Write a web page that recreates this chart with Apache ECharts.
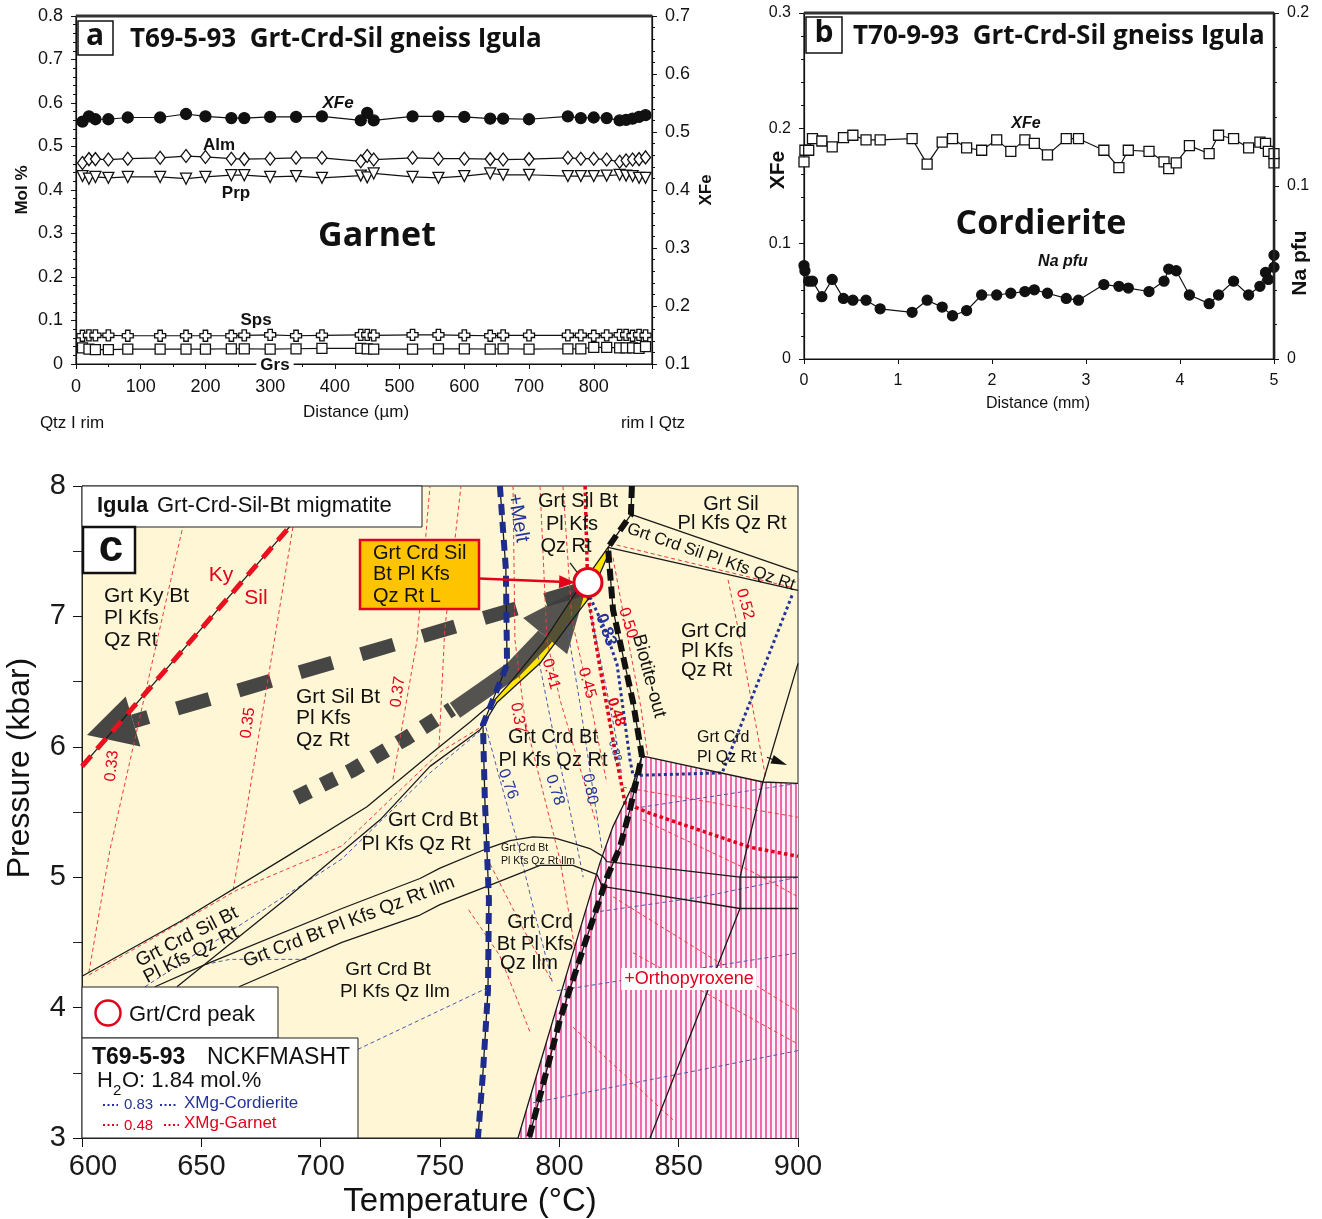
<!DOCTYPE html>
<html>
<head>
<meta charset="utf-8">
<script src="https://cdn.jsdelivr.net/npm/echarts@6/dist/echarts.min.js"></script>
<style>
html,body{margin:0;padding:0;background:#ffffff;}
#chart{width:1322px;height:1219px;}
</style>
</head>
<body>
<div id="chart"></div>
<script>
// ---------- (a) Garnet traverse, T69-5-93 (distance in µm) ----------
const garnetDist = [10,20,30,50,80,130,170,200,240,260,300,340,380,440,450,460,520,560,600,640,660,700,760,780,800,820,840,850,860,870,880];
const garnetXFe = [0.518,0.527,0.522,0.522,0.525,0.525,0.531,0.527,0.524,0.524,0.526,0.526,0.527,0.520,0.533,0.520,0.527,0.527,0.526,0.523,0.523,0.522,0.527,0.524,0.525,0.524,0.520,0.521,0.523,0.526,0.529];
const garnetAlm = [0.462,0.471,0.471,0.470,0.472,0.474,0.478,0.476,0.472,0.471,0.472,0.474,0.474,0.466,0.478,0.470,0.474,0.472,0.472,0.471,0.470,0.471,0.474,0.472,0.472,0.470,0.465,0.468,0.470,0.471,0.475];
const garnetPrp = [0.432,0.426,0.430,0.428,0.430,0.430,0.426,0.430,0.434,0.434,0.430,0.432,0.428,0.433,0.429,0.438,0.430,0.428,0.432,0.438,0.435,0.435,0.432,0.432,0.432,0.433,0.435,0.433,0.432,0.428,0.428];
const garnetSps = [0.065,0.066,0.066,0.066,0.065,0.065,0.065,0.065,0.065,0.066,0.067,0.065,0.066,0.067,0.067,0.066,0.067,0.067,0.066,0.065,0.066,0.066,0.066,0.066,0.065,0.066,0.067,0.067,0.065,0.067,0.066];
const garnetGrs = [0.037,0.034,0.033,0.033,0.034,0.034,0.034,0.034,0.035,0.035,0.034,0.035,0.036,0.036,0.035,0.034,0.034,0.035,0.035,0.034,0.035,0.034,0.035,0.035,0.038,0.038,0.037,0.037,0.037,0.036,0.040];

// ---------- (b) Cordierite traverse, T70-9-93 (distance in mm) ----------
const crdDist = [0,0.01,0.05,0.09,0.19,0.30,0.42,0.52,0.66,0.81,1.15,1.31,1.47,1.58,1.73,1.89,2.05,2.20,2.35,2.45,2.59,2.79,2.92,3.19,3.35,3.45,3.67,3.83,3.88,3.96,4.10,4.31,4.41,4.57,4.73,4.85,4.91,4.94,5.00,5.00];
const crdXFe = [0.171,0.181,0.181,0.191,0.189,0.184,0.192,0.194,0.190,0.190,0.191,0.169,0.188,0.191,0.183,0.181,0.190,0.180,0.190,0.187,0.177,0.191,0.191,0.181,0.166,0.181,0.180,0.171,0.165,0.170,0.185,0.178,0.194,0.191,0.183,0.188,0.187,0.180,0.170,0.178];
const crdNa = [0.054,0.051,0.045,0.045,0.036,0.046,0.035,0.034,0.034,0.029,0.027,0.034,0.030,0.025,0.028,0.037,0.037,0.038,0.039,0.040,0.038,0.035,0.034,0.043,0.042,0.041,0.039,0.045,0.052,0.051,0.037,0.032,0.037,0.045,0.037,0.042,0.050,0.046,0.060,0.053];

// ---------- (c) P–T pseudosection, [T °C, P kbar] ----------
const kySil = [[600.0,5.85],[689.5,7.74]];
const meltLine = [[775.1,8.0],[777.6,7.36],[778.1,6.63],[768.0,6.17],[768.8,5.59],[770.5,4.83],[770.1,4.13],[768.0,3.50],[765.9,3.0]];
const biotiteOut = [[830.4,8.0],[830.0,7.78],[820.4,7.53],[822.5,7.05],[830.9,6.34],[834.6,5.93],[829.6,5.52],[825.4,5.23],[820.0,5.00],[811.2,4.52],[800.3,3.91],[787.3,3.0]];
const opxIn = [[834.6,5.93],[830.4,5.69],[822.5,5.39],[817.0,5.11],[805.7,4.42],[793.2,3.65],[782.7,3.0]];
const opxTop = [[834.6,5.93],[885.3,5.73],[900,5.72]];
const opxField = [[782.7,3.0],[793.2,3.65],[805.7,4.42],[817.0,5.11],[822.5,5.39],[830.4,5.69],[834.6,5.93],[885.3,5.73],[900,5.72],[900,3.0]];
const rightBoundary = [[838.0,3.0],[875.7,4.76],[875.7,5.0],[885.3,5.73],[900,6.64]];
const ilmUpper = [[630.6,4.16],[651.5,4.33],[708.9,4.76],[741.6,4.99],[750.0,5.07],[769.7,5.22],[779.3,5.28],[789.0,5.31],[798.2,5.30],[805.7,5.26],[812.8,5.22],[818.3,5.16],[820.0,5.12],[875.7,5.0],[900,5.0]];
const ilmLower = [[665.8,4.16],[708.9,4.50],[741.6,4.71],[750.0,4.79],[769.7,4.93],[791.9,5.09],[805.7,5.09],[815.8,5.02],[817.9,4.93],[875.7,4.76],[900,4.76]];
const crdInUpper = [[600,4.24],[641.1,4.66],[685.9,5.16],[719.4,5.54],[745.8,5.94],[762.6,6.19],[770.9,6.32],[779.3,6.49],[793.2,6.80],[805.7,7.15],[820.4,7.53]];
const crdInLower = [[639.8,4.16],[685.9,4.84],[724.9,5.44],[745.8,5.85],[766.8,6.13],[773.9,6.34],[791.9,6.64],[803.2,6.92],[812.8,7.15],[820.4,7.47]];
const peakField = [[770.0,6.30],[779.3,6.49],[793.2,6.80],[805.7,7.15],[820.4,7.53],[820.4,7.47],[812.8,7.15],[803.2,6.92],[791.9,6.64],[773.9,6.34]];
const silBandTop = [[830.4,7.78],[900,7.34]];
const silBandBottom = [[820.4,7.53],[900,7.20]];
const xmgCrd083 = [[812.8,7.15],[819.2,6.90],[824.2,6.63],[829.6,5.90],[830.9,5.78],[868.2,5.80],[887.0,6.67],[897.9,7.18]];
const xmgGrt048 = [[810.8,8.0],[811.6,7.43],[812.0,7.16],[817.0,6.61],[822.5,6.05],[827.5,5.57],[838.0,5.49],[858.9,5.36],[879.9,5.23],[900,5.16]];
const grtIsopleths = [
  [[602.9,4.27],[611.7,5.21],[646.1,8.0]],
  [[663.3,4.90],[666.2,5.21],[691.2,8.0]],
  [[730.3,5.75],[740.4,6.82],[745.8,8.0]],
  [[749.6,6.0],[752.0,6.9],[758.8,8.0]],
  [[602.9,4.25],[664.8,4.90],[708.9,5.24],[750.0,5.96],[768.0,6.16]],
  [[780.6,8.0],[781.4,6.82],[785.6,6.21],[800.3,5.13],[806.6,4.44]],
  [[791.9,8.0],[794.8,6.82],[800.3,6.36],[815.0,5.44]],
  [[801.5,8.0],[805.3,6.97],[812.8,6.36],[819.6,5.75]],
  [[822.5,7.45],[828.0,6.90],[834.2,6.30],[837.0,5.93]],
  [[870.7,7.28],[875.0,6.90],[880.0,6.40],[886.6,5.75]],
  [[821.2,7.56],[897.9,7.22]],
  [[822.5,4.85],[900,3.97]],
  [[830.9,4.42],[900,3.72]],
  [[826.7,5.69],[900,5.46]],
  [[835.0,5.44],[880.0,5.05],[900,4.85]],
  [[805.7,3.85],[847.6,3.14]],
  [[771.0,5.10],[785.0,4.60],[797.0,4.20]],
  [[762.0,4.75],[775.0,4.40],[788.0,3.80]]
];
const crdIsopleths = [
  [[626.4,4.16],[708.9,5.14],[745.8,5.80],[766.8,6.12]],
  [[651.5,4.33],[662.0,4.37],[695.1,4.37]],
  [[715.6,3.68],[769.7,4.15]],
  [[768.5,6.20],[775.1,5.75],[782.0,5.30],[790.0,4.70],[797.0,4.20]],
  [[791.0,6.70],[797.5,6.10],[803.5,5.60],[810.0,5.00]],
  [[803.0,6.95],[808.5,6.35],[813.0,5.80],[818.0,5.20]],
  [[811.0,7.20],[818.0,6.60],[823.5,6.10],[826.0,5.80]],
  [[828.4,5.52],[900,5.72]],
  [[814.1,4.73],[860.0,4.85],[900,5.0]],
  [[799.0,4.13],[900,4.42]],
  [[789.0,3.27],[900,3.67]]
];
const peakTP = [812.0, 7.26];
const retroPath = [[807.8,7.20],[602.1,6.09]];
const heatingPathDotted = [[689.7,5.61],[713.1,5.82],[736.2,6.07],[755.0,6.29]];
const heatingPathSolid = [[756.3,6.28],[780.6,6.59],[793.2,6.83],[811.6,7.24]];
const peakBoxPointer = [[766.3,7.29],[806.6,7.26]];
const fieldPointer = [[887.0,5.92],[895.4,5.86]];
const qzRtTick = [[804.5,7.41],[807.8,7.33]];

// ---------- styling ----------
const SANS = '"Liberation Sans", Arial, Helvetica, sans-serif';
const HEAD = '"Open Sans", "Liberation Sans", sans-serif';
const RED = '#e3001b';
const BLUE = '#23339b';
const INK = '#111111';
const ARROW = '#3c3c3c';

const pair = (xs, ys) => xs.map((x, i) => [x, ys[i]]);

// vertical pink hatch for the orthopyroxene-bearing field
const hatch = document.createElement('canvas');
hatch.width = 5; hatch.height = 8;
const hctx = hatch.getContext('2d');
hctx.fillStyle = '#fff1f7'; hctx.fillRect(0, 0, 5, 8);
hctx.fillStyle = '#ee6aa8'; hctx.fillRect(0, 0, 2, 8);

function axisCommon(extra) {
  const base = {
    type: 'value',
    axisLine: { show: true, onZero: false, lineStyle: { color: INK, width: 1.2 } },
    axisTick: { show: true, inside: false, length: 5, lineStyle: { color: INK, width: 1 } },
    minorTick: { show: false },
    splitLine: { show: false },
    minorSplitLine: { show: false },
    axisLabel: { color: INK, fontFamily: SANS, fontSize: 17, margin: 12, hideOverlap: false }
  };
  const out = Object.assign({}, base, extra);
  ['axisLine', 'axisTick', 'minorTick', 'axisLabel'].forEach(k => {
    if (extra[k]) out[k] = Object.assign({}, base[k], extra[k]);
  });
  return out;
}

function profile(xi, yi, xs, ys, symbol, size, filled, rotate) {
  return {
    type: 'line', xAxisIndex: xi, yAxisIndex: yi, data: pair(xs, ys),
    symbol, symbolSize: size, symbolRotate: rotate || 0, showSymbol: true,
    lineStyle: { color: INK, width: 1.2 },
    itemStyle: { color: filled ? INK : '#ffffff', borderColor: INK, borderWidth: 1.3, opacity: 1 },
    silent: true, z: 4, animation: false
  };
}

function pt(data, color, width, type, z) {
  return {
    type: 'line', xAxisIndex: 2, yAxisIndex: 4, data, symbol: 'none', showSymbol: false,
    lineStyle: { color, width, type: type || 'solid', cap: 'butt', join: 'round' },
    silent: true, z: z, clip: true, animation: false
  };
}

function arrowSeries(specs, z) {
  return {
    type: 'custom', coordinateSystem: 'cartesian2d', xAxisIndex: 2, yAxisIndex: 4,
    z, silent: true, clip: false, animation: false,
    data: specs.map(s => s.pts[s.pts.length - 1]),
    renderItem: (params, api) => {
      const s = specs[params.dataIndex];
      const px = s.pts.map(p => api.coord(p));
      const n = px.length;
      const op = s.opacity == null ? 1 : s.opacity;
      const children = [];
      let shaft = px;
      if (s.head) {
        const tip = px[n - 1], prev = px[n - 2];
        let ux = tip[0] - prev[0], uy = tip[1] - prev[1];
        const len = Math.hypot(ux, uy); ux /= len; uy /= len;
        const base = [tip[0] - ux * s.head[0], tip[1] - uy * s.head[0]];
        const hw = s.head[1] / 2;
        shaft = px.slice(0, n - 1).concat([base]);
        children.push({
          type: 'polygon',
          shape: { points: [tip, [base[0] - uy * hw, base[1] + ux * hw], [base[0] + uy * hw, base[1] - ux * hw]] },
          style: { fill: s.color, stroke: 'none', opacity: op }
        });
      }
      children.unshift({
        type: 'polyline', shape: { points: shaft },
        style: { stroke: s.color, lineWidth: s.width, lineDash: s.dash || null, lineCap: 'butt', lineJoin: 'round', fill: 'none', opacity: op }
      });
      return { type: 'group', children };
    }
  };
}

const fieldPolygons = [
  { pts: opxField, fill: { image: hatch, repeat: 'repeat' } },
  { pts: peakField, fill: '#ffe600' }
];

const pathArrows = [
  { pts: retroPath, width: 14, dash: [34, 30], head: [48, 52], color: ARROW, opacity: 0.95 },
  { pts: heatingPathDotted, width: 15, dash: [15, 14], color: ARROW, opacity: 0.95 },
  { pts: heatingPathSolid, width: 18, head: [66, 57], color: ARROW, opacity: 0.88 }
];
const pointerArrows = [
  { pts: peakBoxPointer, width: 2.5, head: [16, 13], color: RED },
  { pts: fieldPointer, width: 1.3, head: [16, 9], color: INK }
];

// ---------- text helper ----------
function label(x, y, text, size, o) {
  o = o || {};
  const el = {
    type: 'text', x, y, z: 120, silent: true,
    rotation: (o.rot || 0) * Math.PI / 180,
    style: {
      text, fontSize: size, fontFamily: o.family || SANS,
      fontWeight: o.bold ? 'bold' : 'normal', fontStyle: o.italic ? 'italic' : 'normal',
      fill: o.color || INK, align: o.align || 'center', verticalAlign: 'middle',
      lineHeight: o.lh || Math.round(size * 1.1)
    }
  };
  if (o.bg) { el.style.backgroundColor = o.bg; el.style.padding = o.pad || [0, 3]; }
  return el;
}
const rect = (x, y, w, h, fill, stroke, lw) => ({ type: 'rect', z: 110, silent: true, shape: { x, y, width: w, height: h }, style: { fill, stroke, lineWidth: lw } });
const seg = (x1, y1, x2, y2, color, lw, dash) => ({ type: 'line', z: 112, silent: true, shape: { x1, y1, x2, y2 }, style: { stroke: color, lineWidth: lw, lineDash: dash || null } });

const graphics = [
  // panel a frame and captions
  seg(76, 16, 652, 16, '#333', 3),
  rect(78, 21, 35, 34, '#fff', INK, 1.5),
  label(95, 36, 'a', 30, { bold: true, family: HEAD }),
  label(130, 40, 'T69-5-93  Grt-Crd-Sil gneiss Igula', 26, { bold: true, family: HEAD, align: 'left' }),
  label(377, 236, 'Garnet', 34, { bold: true, family: HEAD }),
  label(338, 103, 'XFe', 17, { bold: true, italic: true }),
  label(219, 145, 'Alm', 17, { bold: true }),
  label(236, 193, 'Prp', 17, { bold: true }),
  label(256, 320, 'Sps', 17, { bold: true }),
  label(275, 365, 'Grs', 17, { bold: true, bg: '#fff', pad: [0, 4] }),
  label(22, 190, 'Mol %', 17, { bold: true, rot: 90 }),
  label(706, 190, 'XFe', 17, { bold: true, rot: 90 }),
  label(356, 412, 'Distance (µm)', 17),
  label(72, 423, 'Qtz I rim', 17),
  label(653, 423, 'rim I Qtz', 17),

  // panel b frame and captions
  seg(804, 13, 1274, 13, '#333', 3),
  seg(1274, 13, 1274, 359, '#222', 2.5),
  rect(806, 17, 36, 36, '#fff', INK, 1.5),
  label(824, 33, 'b', 30, { bold: true, family: HEAD }),
  label(853, 37, 'T70-9-93  Grt-Crd-Sil gneiss Igula', 26, { bold: true, family: HEAD, align: 'left' }),
  label(1041, 224, 'Cordierite', 34, { bold: true, family: HEAD }),
  label(1026, 124, 'XFe', 16, { bold: true, italic: true }),
  label(1063, 262, 'Na pfu', 16, { bold: true, italic: true }),
  label(778, 170, 'XFe', 21, { bold: true, rot: 90 }),
  label(1300, 263, 'Na pfu', 21, { bold: true, rot: 90 }),
  label(1038, 404, 'Distance (mm)', 16),

  // panel c boxes
  rect(82, 486, 340, 41, '#fff', '#222', 1),
  label(97, 506, 'Igula', 22, { bold: true, align: 'left' }),
  label(157, 506, 'Grt-Crd-Sil-Bt migmatite', 22, { align: 'left' }),
  rect(83, 527, 52, 46, '#fff', INK, 2.5),
  label(111, 549, 'c', 44, { bold: true }),
  rect(360, 540, 119, 69, '#ffc400', RED, 2.5),
  label(373, 574.5, 'Grt Crd Sil\nBt Pl Kfs\nQz Rt L', 20, { align: 'left', lh: 21.5 }),
  rect(82, 987, 196, 51, '#fff', '#222', 1),
  { type: 'circle', z: 112, silent: true, shape: { cx: 108, cy: 1013, r: 12.5 }, style: { fill: '#fff', stroke: RED, lineWidth: 2.5 } },
  label(129, 1015, 'Grt/Crd peak', 22, { align: 'left' }),
  rect(82, 1038, 276, 100, '#fff', '#222', 1),
  label(92, 1058, 'T69-5-93', 23, { bold: true, align: 'left' }),
  label(207, 1058, 'NCKFMASHT', 23, { align: 'left' }),
  label(97, 1081, 'H', 22, { align: 'left' }),
  label(113, 1091, '2', 15, { align: 'left' }),
  label(122, 1081, 'O: 1.84 mol.%', 22, { align: 'left' }),
  seg(103, 1105, 118, 1105, BLUE, 2, [2, 2.5]),
  label(124, 1105, '0.83', 15, { color: BLUE, align: 'left' }),
  seg(160, 1105, 176, 1105, BLUE, 2, [2, 2.5]),
  label(184, 1103, 'XMg-Cordierite', 17, { color: BLUE, align: 'left' }),
  seg(103, 1125, 118, 1125, RED, 2, [2, 2.5]),
  label(124, 1126, '0.48', 15, { color: RED, align: 'left' }),
  seg(164, 1125, 179, 1125, RED, 2, [2, 2.5]),
  label(184, 1123, 'XMg-Garnet', 17, { color: RED, align: 'left' }),

  // panel c field and line labels
  label(221, 575, 'Ky', 21, { color: RED }),
  label(256, 598, 'Sil', 21, { color: RED }),
  label(104, 618, 'Grt Ky Bt\nPl Kfs\nQz Rt', 21, { align: 'left', lh: 22 }),
  label(296, 718.5, 'Grt Sil Bt\nPl Kfs\nQz Rt', 21, { align: 'left', lh: 21.5 }),
  label(578, 501, 'Grt Sil Bt', 20),
  label(572, 524, 'Pl Kfs', 20),
  label(566, 546, 'Qz Rt', 20),
  label(731, 504, 'Grt Sil', 20),
  label(732, 523, 'Pl Kfs Qz Rt', 20),
  label(711, 557, 'Grt Crd Sil Pl Kfs Qz Rt', 17, { rot: -19 }),
  label(681, 651, 'Grt Crd\nPl Kfs\nQz Rt', 20, { align: 'left', lh: 19.5 }),
  label(553, 737, 'Grt Crd Bt', 20),
  label(553, 760, 'Pl Kfs Qz Rt', 20),
  label(697, 748, 'Grt Crd\nPl Qz Rt', 16, { align: 'left', lh: 20 }),
  label(433, 820, 'Grt Crd Bt', 20),
  label(416, 844, 'Pl Kfs Qz Rt', 20),
  label(501, 848, 'Grt Crd Bt', 10.5, { align: 'left' }),
  label(501, 861, 'Pl Kfs Qz Rt Ilm', 10.5, { align: 'left' }),
  label(187, 937, 'Grt Crd Sil Bt', 19, { rot: 27 }),
  label(191, 955, 'Pl Kfs Qz Rt', 19, { rot: 27 }),
  label(349, 922, 'Grt Crd Bt Pl Kfs Qz Rt Ilm', 19, { rot: 21 }),
  label(540, 922, 'Grt Crd', 20),
  label(535, 944, 'Bt Pl Kfs', 20),
  label(529, 963, 'Qz Ilm', 20),
  label(388, 970, 'Grt Crd Bt', 19),
  label(395, 992, 'Pl Kfs Qz Ilm', 19),
  label(689, 979, '+Orthopyroxene', 18, { color: RED, bg: '#fff', pad: [1, 3] }),
  label(518, 518, '+Melt', 20, { color: BLUE, rot: -80 }),
  label(649, 676, 'Biotite-out', 19, { rot: -75 }),
  label(112, 766, '0.33', 16, { color: RED, rot: 84 }),
  label(248, 723, '0.35', 16, { color: RED, rot: 82 }),
  label(398, 692, '0.37', 16, { color: RED, rot: 82 }),
  label(518, 718, '0.37', 16, { color: RED, rot: -80 }),
  label(551, 674, '0.41', 16, { color: RED, rot: -74 }),
  label(587, 683, '0.45', 16, { color: RED, rot: -74 }),
  label(616, 712, '0.48', 15, { color: RED, bold: true, rot: -72 }),
  label(615, 751, '0.82', 11, { color: BLUE, rot: -72 }),
  label(606, 630, '0.83', 17, { color: BLUE, bold: true, rot: -70 }),
  label(628, 623, '0.50', 16, { color: RED, rot: -72 }),
  label(745, 604, '0.52', 16, { color: RED, rot: -74 }),
  label(508, 784, '0.76', 16, { color: BLUE, rot: -70 }),
  label(555, 790, '0.78', 16, { color: BLUE, rot: -72 }),
  label(590, 789, '0.80', 16, { color: BLUE, rot: -80 }),
  label(470, 1202, 'Temperature (°C)', 33),
  label(20, 768, 'Pressure (kbar)', 32, { rot: 90 })
];

const series = [
  // panel a
  profile(0, 1, garnetDist, garnetXFe, 'circle', 11, true),
  profile(0, 0, garnetDist, garnetAlm, 'diamond', [10, 13], false),
  profile(0, 0, garnetDist, garnetPrp, 'triangle', 11, false, 180),
  profile(0, 0, garnetDist, garnetSps, 'path://M3,0L7,0L7,3L10,3L10,7L7,7L7,10L3,10L3,7L0,7L0,3L3,3Z', 11, false),
  profile(0, 0, garnetDist, garnetGrs, 'rect', 10, false),
  // panel b
  profile(1, 2, crdDist, crdXFe, 'rect', 10, false),
  profile(1, 3, crdDist, crdNa, 'circle', 10, true),
  // panel c: fields
  {
    type: 'custom', coordinateSystem: 'cartesian2d', xAxisIndex: 2, yAxisIndex: 4, z: 1, silent: true, clip: true, animation: false,
    data: fieldPolygons.map(f => f.pts[0]),
    renderItem: (params, api) => {
      const f = fieldPolygons[params.dataIndex];
      return { type: 'polygon', shape: { points: f.pts.map(p => api.coord(p)) }, style: { fill: f.fill, stroke: 'none' } };
    }
  },
  arrowSeries(pathArrows, 3)
];
grtIsopleths.forEach(d => series.push(pt(d, '#ef3b3b', 1, [4, 3], 4)));
crdIsopleths.forEach(d => series.push(pt(d, '#4a57b0', 1, [4, 3], 4)));
series.push(pt(xmgGrt048, RED, 3.5, [3.5, 3], 5));
series.push(pt(xmgCrd083, BLUE, 3, [3, 3], 5));
[crdInUpper, crdInLower, ilmUpper, ilmLower, silBandTop, silBandBottom, opxTop, rightBoundary, opxIn, meltLine, biotiteOut, kySil, qzRtTick]
  .forEach(d => series.push(pt(d, '#1a1a1a', 1.3, 'solid', 6)));
series.push(pt(meltLine, '#1e2d8c', 6, [11, 7], 7));
series.push(pt(biotiteOut, '#111', 6, [12, 6], 7));
series.push(pt(kySil, '#ea1020', 5, [14, 9], 7));
series.push(arrowSeries(pointerArrows, 8));
series.push({
  type: 'scatter', xAxisIndex: 2, yAxisIndex: 4, data: [peakTP], symbol: 'circle', symbolSize: 28,
  itemStyle: { color: '#ffffff', borderColor: RED, borderWidth: 3, opacity: 1 }, silent: true, z: 9, animation: false
});

const fmt1 = v => (v === 0 ? '0' : v.toFixed(1));

const option = {
  animation: false,
  backgroundColor: '#ffffff',
  grid: [
    { left: 76, top: 16, width: 576, height: 348, show: true, borderColor: INK, borderWidth: 1.2, backgroundColor: 'transparent', containLabel: false, outerBoundsMode: 'none' },
    { left: 804, top: 13, width: 470, height: 346, show: true, borderColor: INK, borderWidth: 1.2, backgroundColor: 'transparent', containLabel: false, outerBoundsMode: 'none' },
    { left: 82, top: 486, width: 716, height: 652, show: true, borderColor: '#222', borderWidth: 1, backgroundColor: '#fef6d4', containLabel: false, outerBoundsMode: 'none' }
  ],
  xAxis: [
    axisCommon({ gridIndex: 0, min: 0, max: 890, interval: 100,
      minorTick: { show: true, splitNumber: 2, length: 3, lineStyle: { color: INK } },
      axisLabel: { fontSize: 18, margin: 14, formatter: v => (Math.round(v) % 100 === 0 ? String(Math.round(v)) : '') } }),
    axisCommon({ gridIndex: 1, min: 0, max: 5, interval: 1,
      axisLabel: { fontSize: 16, margin: 14 } }),
    axisCommon({ gridIndex: 2, min: 600, max: 900, interval: 50,
      axisTick: { length: 9 }, axisLine: { lineStyle: { color: '#222', width: 1 } },
      axisLabel: { fontSize: 29, margin: 14, color: '#1a1a1a',
        formatter: v => (v === 600 ? '{first|600}' : String(v)),
        rich: { first: { fontSize: 29, fontFamily: SANS, color: '#1a1a1a', padding: [0, 0, 0, 22] } } } })
  ],
  yAxis: [
    axisCommon({ gridIndex: 0, position: 'left', min: 0, max: 0.8, interval: 0.1,
      minorTick: { show: true, splitNumber: 5, length: 3, lineStyle: { color: INK } },
      axisLabel: { fontSize: 18, margin: 13, formatter: fmt1 } }),
    axisCommon({ gridIndex: 0, position: 'right', min: 0.1, max: 0.7, interval: 0.1,
      minorTick: { show: true, splitNumber: 5, length: 3, lineStyle: { color: INK } },
      axisLabel: { fontSize: 18, margin: 13, formatter: fmt1 } }),
    axisCommon({ gridIndex: 1, position: 'left', min: 0, max: 0.3, interval: 0.1,
      minorTick: { show: true, splitNumber: 5, length: 3, lineStyle: { color: INK } },
      axisLabel: { fontSize: 16, margin: 13, formatter: fmt1 } }),
    axisCommon({ gridIndex: 1, position: 'right', min: 0, max: 0.2, interval: 0.1,
      minorTick: { show: true, splitNumber: 5, length: 3, lineStyle: { color: INK } },
      axisLabel: { fontSize: 16, margin: 13, formatter: fmt1 } }),
    axisCommon({ gridIndex: 2, position: 'left', min: 3, max: 8, interval: 1,
      axisTick: { length: 9 }, axisLine: { lineStyle: { color: '#222', width: 1 } },
      minorTick: { show: true, splitNumber: 2, length: 9, lineStyle: { color: '#222' } },
      axisLabel: { fontSize: 29, margin: 16, color: '#1a1a1a' } })
  ],
  series,
  graphic: { elements: graphics }
};

const chart = echarts.init(document.getElementById('chart'), null, { renderer: 'canvas' });
chart.setOption(option);
</script>
</body>
</html>
